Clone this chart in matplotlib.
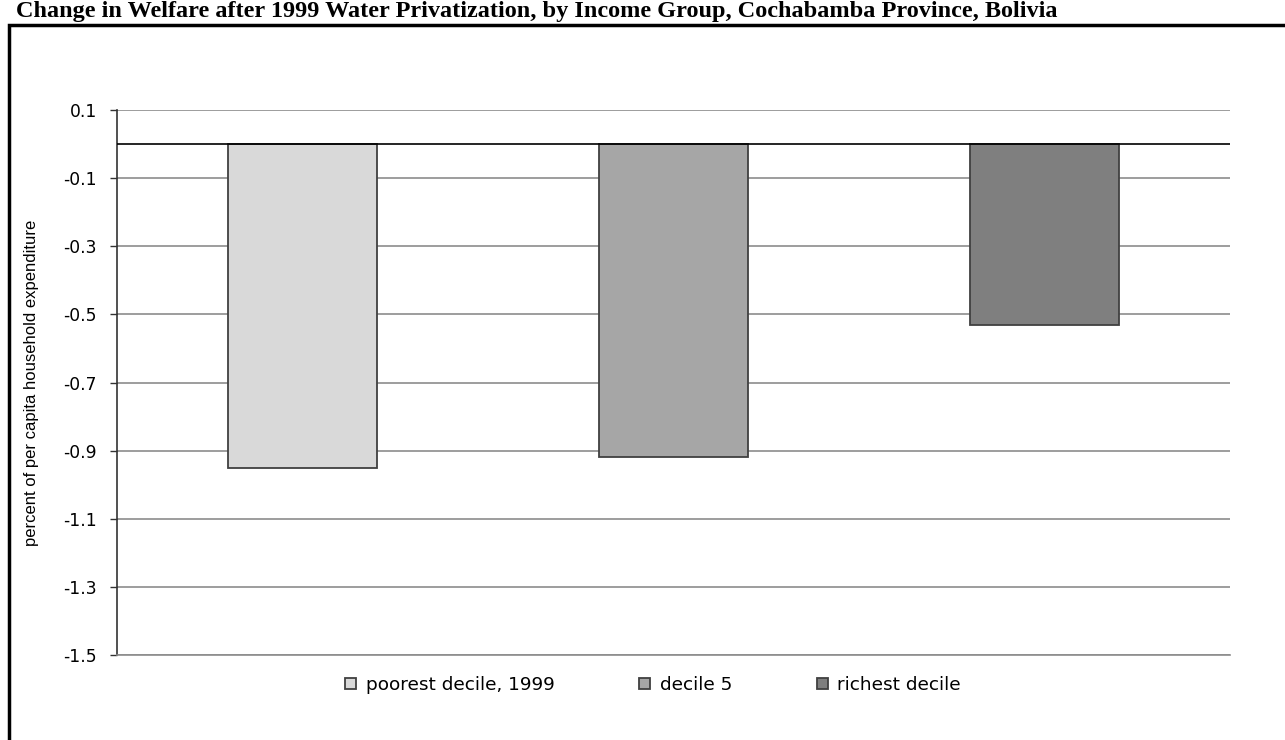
import numpy as np
import matplotlib
matplotlib.use('Agg')
import matplotlib.pyplot as plt
from matplotlib.patches import Rectangle

groups = ['poorest decile, 1999', 'decile 5', 'richest decile']
change = [-0.95, -0.92, -0.53]
colors = ['#d9d9d9', '#a6a6a6', '#7f7f7f']
yticks = [0.1, -0.1, -0.3, -0.5, -0.7, -0.9, -1.1, -1.3, -1.5]

plt.rcParams['font.family'] = ['DejaVu Sans']

W, H = 1285, 740
fig = plt.figure(figsize=(W/100, H/100), dpi=100)
ax = fig.add_axes([117/W, 1 - 655/H, (1230 - 117)/W, (655 - 110)/H])

# outer frame around the chart area
fig.patches.append(Rectangle((9/W, -0.05), 1.1, (H - 25)/H + 0.05,
                             transform=fig.transFigure, fill=False,
                             edgecolor='black', linewidth=2.5, zorder=0))

fig.text(16/W, 1 - 1/H,
         'Change in Welfare after 1999 Water Privatization, by Income Group, Cochabamba Province, Bolivia',
         family=['Liberation Serif'], weight='bold', fontsize=17.5,
         ha='left', va='top', color='black')

x = np.arange(len(groups))
for i in range(len(groups)):
    ax.bar(x[i], change[i], width=0.4, color=colors[i], edgecolor='#404040',
           linewidth=1.3, label=groups[i], zorder=3)

ax.axhline(0, color='black', linewidth=1.2, zorder=4)
ax.set_xlim(-0.5, 2.5)
ax.set_ylim(-1.5, 0.1)
ax.set_yticks(yticks)
ax.set_yticklabels(['%.1f' % v for v in yticks], fontsize=12.3)
ax.set_xticks([])
ax.yaxis.grid(True, color='#8c8c8c', linewidth=1.2, zorder=0)
ax.tick_params(axis='y', direction='out', length=5, width=1, color='#333333', pad=9.5)
for s in ['top', 'right']:
    ax.spines[s].set_visible(False)
ax.spines['left'].set_color('#333333')
ax.spines['left'].set_linewidth(1.2)
ax.spines['bottom'].set_color('#8c8c8c')
ax.spines['bottom'].set_linewidth(1.2)

ax.set_ylabel('percent of per capita household expenditure', family=['Liberation Sans'],
              fontsize=12, labelpad=17)

leg = ax.legend(loc='center', bbox_to_anchor=(0.4816, -30/545), ncol=3,
                frameon=False, fontsize=13.3, handlelength=0.6, handleheight=0.6,
                handletextpad=0.5, columnspacing=4.6)

plt.savefig('out.png', dpi=100)
plt.close()
